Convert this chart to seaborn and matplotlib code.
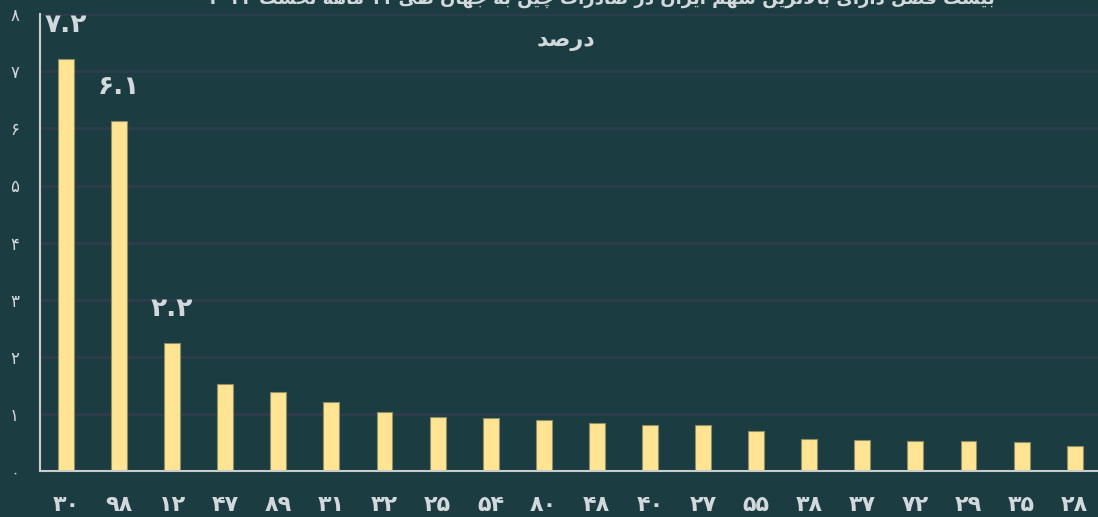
import matplotlib
matplotlib.use("Agg")
import matplotlib.pyplot as plt
import seaborn as sns
import pandas as pd

# ---------------- data ----------------
categories = ["۳۰", "۹۸", "۱۲", "۴۷", "۸۹", "۳۱", "۳۲", "۲۵", "۵۴", "۸۰",
              "۴۸", "۴۰", "۲۷", "۵۵", "۳۸", "۳۷", "۷۲", "۲۹", "۳۵", "۲۸"]
values = [7.22, 6.13, 2.24, 1.52, 1.39, 1.21, 1.04, 0.95, 0.92, 0.90,
          0.84, 0.81, 0.80, 0.70, 0.56, 0.54, 0.53, 0.53, 0.50, 0.43]
labelled = ["۷.۲", "۶.۱", "۲.۲"]
y_ticks = [0, 1, 2, 3, 4, 5, 6, 7, 8]
y_tick_labels = ["۰", "۱", "۲", "۳", "۴", "۵", "۶", "۷", "۸"]
title_text = "بیست فصل دارای بالاترین سهم ایران در صادرات چین به جهان طی ۱۱ ماهه نخست ۲۰۲۴"
subtitle_text = "درصد"

# ------------- minimal Persian shaping -------------
FORMS = {
    "ا": ("\uFE8D", "\uFE8E"), "د": ("\uFEA9", "\uFEAA"), "ر": ("\uFEAD", "\uFEAE"),
    "ز": ("\uFEAF", "\uFEB0"), "و": ("\uFEED", "\uFEEE"),
    "ب": ("\uFE8F", "\uFE90", "\uFE91", "\uFE92"), "ت": ("\uFE95", "\uFE96", "\uFE97", "\uFE98"),
    "ج": ("\uFE9D", "\uFE9E", "\uFE9F", "\uFEA0"), "خ": ("\uFEA5", "\uFEA6", "\uFEA7", "\uFEA8"),
    "س": ("\uFEB1", "\uFEB2", "\uFEB3", "\uFEB4"), "ص": ("\uFEB9", "\uFEBA", "\uFEBB", "\uFEBC"),
    "ط": ("\uFEC1", "\uFEC2", "\uFEC3", "\uFEC4"), "ف": ("\uFED1", "\uFED2", "\uFED3", "\uFED4"),
    "ل": ("\uFEDD", "\uFEDE", "\uFEDF", "\uFEE0"), "م": ("\uFEE1", "\uFEE2", "\uFEE3", "\uFEE4"),
    "ن": ("\uFEE5", "\uFEE6", "\uFEE7", "\uFEE8"), "ه": ("\uFEE9", "\uFEEA", "\uFEEB", "\uFEEC"),
    "ی": ("\uFBFC", "\uFBFD", "\uFBFE", "\uFBFF"), "چ": ("\uFB7A", "\uFB7B", "\uFB7C", "\uFB7D"),
}


def shape_word(w):
    out = []
    i = 0
    n = len(w)
    while i < n:
        c = w[i]
        if c not in FORMS:
            out.append(c)
            i += 1
            continue
        prev = w[i - 1] if i > 0 else None
        join_prev = prev in FORMS and len(FORMS[prev]) == 4
        if c == "ل" and i + 1 < n and w[i + 1] == "ا":
            out.append("\uFEFC" if join_prev else "\uFEFB")
            i += 2
            continue
        nxt = w[i + 1] if i + 1 < n else None
        f = FORMS[c]
        join_next = len(f) == 4 and nxt in FORMS
        if join_prev and join_next:
            out.append(f[3])
        elif join_prev:
            out.append(f[1])
        elif join_next:
            out.append(f[2])
        else:
            out.append(f[0])
        i += 1
    return "".join(out)


def rtl(text):
    words = text.split(" ")
    res = []
    for w in reversed(words):
        if all(ch in "۰۱۲۳۴۵۶۷۸۹0123456789." for ch in w):
            res.append(w)
        else:
            res.append(shape_word(w)[::-1])
    return " ".join(res)


# ---------------- style ----------------
BG = "#1b3c40"
GRID = "#2f3c4d"
TXT = "#d3d8dc"
BAR = "#ffe593"

sns.set_theme(style="dark")
plt.rcParams["font.family"] = ["DejaVu Sans"]

fig = plt.figure(figsize=(10.98, 5.17), dpi=100, facecolor=BG)
ax = fig.add_axes([40 / 1098, 46 / 517, 1 - 40 / 1098, (471 - 14.2) / 517])
ax.set_facecolor(BG)

df = pd.DataFrame({"cat": categories, "val": values})
sns.barplot(data=df, x="cat", y="val", order=categories, color=BAR, width=0.3,
            edgecolor="#8f8c66", linewidth=0.8, saturation=1, ax=ax, zorder=3)

ax.set_ylim(0, 8)
ax.set_xlim(-0.49, 19.44)
ax.set_yticks(y_ticks)
ax.set_yticklabels(y_tick_labels)
ax.yaxis.grid(True, color=GRID, linewidth=2, zorder=0)
ax.xaxis.grid(False)
ax.tick_params(axis="y", length=0, pad=15, labelsize=12, colors=TXT)
ax.tick_params(axis="x", length=0, pad=17, labelsize=16, colors=TXT)
for t in ax.get_xticklabels():
    t.set_fontweight("bold")
ax.set_xlabel("")
ax.set_ylabel("")
for s in ["top", "right"]:
    ax.spines[s].set_visible(False)
for s in ["left", "bottom"]:
    ax.spines[s].set_visible(True)
    ax.spines[s].set_color("#c9cdcd")
    ax.spines[s].set_linewidth(1.5)
    ax.spines[s].set_zorder(4)

for i, lab in enumerate(labelled):
    ax.annotate(lab, xy=(i, values[i]), xytext=(0, 15), textcoords="offset points",
                ha="center", va="bottom", fontsize=19, fontweight="bold",
                color=TXT, annotation_clip=False)

fig.text(0.515, 1 - 41 / 517, rtl(subtitle_text), ha="center", va="center",
         fontsize=16, color=TXT, fontweight="bold")
fig.text(0.548, 1 - 4 / 517, rtl(title_text), ha="center", va="baseline",
         fontsize=13, color=TXT, fontweight="bold")

fig.savefig("out.png", dpi=100, facecolor=BG)
